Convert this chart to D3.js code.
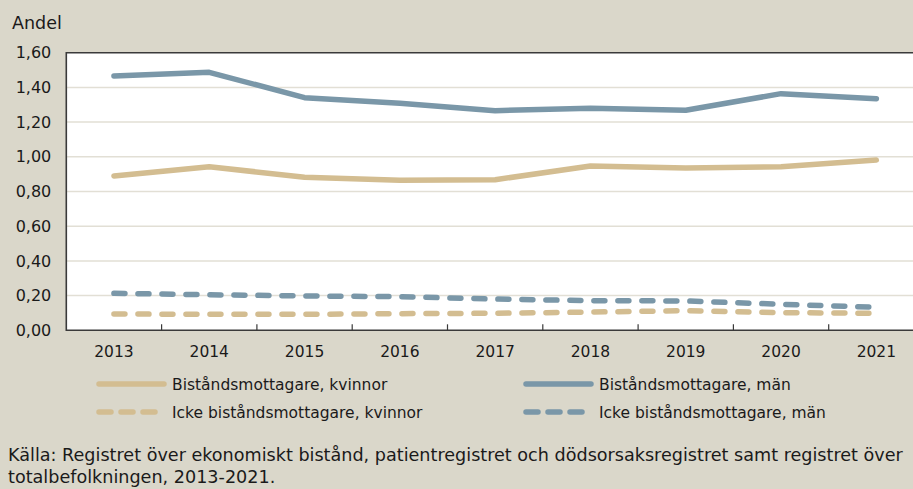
<!DOCTYPE html>
<html><head><meta charset="utf-8">
<script src="https://cdn.jsdelivr.net/npm/d3@7"></script>
<style>
html,body{margin:0;padding:0;background:#DAD7CA;overflow:hidden;}
text{font-family:"DejaVu Sans",sans-serif;fill:#1a1a1a;}
</style></head><body>
<svg id="c" width="913" height="489"></svg>
<script>
const years = ["2013","2014","2015","2016","2017","2018","2019","2020","2021"];
const manBistand = [1.466,1.487,1.341,1.308,1.266,1.280,1.268,1.364,1.335];
const kvinnorBistand = [0.889,0.943,0.882,0.865,0.868,0.947,0.935,0.943,0.981];
const manIcke = [0.213,0.205,0.198,0.194,0.180,0.171,0.169,0.150,0.133];
const kvinnorIcke = [0.094,0.092,0.092,0.096,0.098,0.105,0.113,0.102,0.098];
const yTicks = [0,0.2,0.4,0.6,0.8,1.0,1.2,1.4,1.6];
const seriesNames = ["Biståndsmottagare, kvinnor","Biståndsmottagare, män","Icke biståndsmottagare, kvinnor","Icke biståndsmottagare, män"];
const colKv = "#D3BD91", colMan = "#7A97A8";

const svg = d3.select("#c");
svg.append("rect").attr("width",913).attr("height",489).attr("fill","#DAD7CA");

const x = d3.scaleBand().domain(years).range([66.3,924]);
const y = d3.scaleLinear().domain([0,1.6]).range([330.3,52.7]);

svg.append("rect").attr("x",66.3).attr("y",52.7).attr("width",924-66.3).attr("height",330.3-52.7).attr("fill","#fff");

svg.append("g").selectAll("line").data(yTicks.filter(d=>d>0 && d<1.6)).join("line")
  .attr("x1",67).attr("x2",924).attr("y1",d=>y(d)).attr("y2",d=>y(d))
  .attr("stroke","#E2DFD5").attr("stroke-width",1.5);

svg.append("path").attr("d",`M924,${y(1.6)}H66.3V${y(0)}H924`).attr("fill","none").attr("stroke","#3a3a3a").attr("stroke-width",1.6);

const yAxis = d3.axisLeft(y).tickValues(yTicks).tickSize(0).tickPadding(15)
  .tickFormat(d=>d3.format(".2f")(d).replace(".",","));
const gy = svg.append("g").attr("transform","translate(66.3,0)").call(yAxis);
gy.select(".domain").remove();
gy.selectAll("text").attr("font-size",16).attr("font-family","DejaVu Sans").attr("fill","#1a1a1a");

const xAxis = d3.axisBottom(x).tickSize(0).tickPadding(16);
const gx = svg.append("g").attr("transform",`translate(0,${y(0)})`).call(xAxis);
gx.select(".domain").remove();
gx.selectAll("text").attr("font-size",15.5).attr("font-family","DejaVu Sans").attr("fill","#1a1a1a");
svg.append("g").selectAll("line").data(years.slice(1)).join("line")
  .attr("x1",d=>x(d)).attr("x2",d=>x(d)).attr("y1",y(0)).attr("y2",y(0)-6)
  .attr("stroke","#3a3a3a").attr("stroke-width",1.2);

svg.append("text").attr("x",12).attr("y",29).attr("font-size",17.5).text("Andel");

const line = d3.line().x((d,i)=>x(years[i])+x.bandwidth()/2).y(d=>y(d));
const series = [
  {vals:kvinnorBistand,col:colKv,dash:null},
  {vals:manBistand,col:colMan,dash:null},
  {vals:kvinnorIcke,col:colKv,dash:"11,13"},
  {vals:manIcke,col:colMan,dash:"11,13"}
];
series.forEach(s=>{
  svg.append("path").attr("d",line(s.vals)).attr("fill","none").attr("stroke",s.col)
    .attr("stroke-width",5.5).attr("stroke-linecap","round").attr("stroke-linejoin","round")
    .attr("stroke-dasharray",s.dash);
});

const legPos = [[97,384],[524,384],[97,412],[524,412]];
series.forEach((s,i)=>{
  const [lx,ly] = legPos[i];
  const g = svg.append("g");
  g.append("line").attr("x1",lx+2).attr("x2",lx+67).attr("y1",ly).attr("y2",ly)
    .attr("stroke",s.col).attr("stroke-width",5.5).attr("stroke-linecap","round")
    .attr("stroke-dasharray",s.dash?"12,10":null);
  g.append("text").attr("x",lx+75).attr("y",ly+5.5).attr("font-size",15.5).text(seriesNames[i]);
});

svg.append("text").attr("x",8).attr("y",461).attr("font-size",17.6)
  .text("Källa: Registret över ekonomiskt bistånd, patientregistret och dödsorsaksregistret samt registret över");
svg.append("text").attr("x",8).attr("y",483).attr("font-size",17.6)
  .text("totalbefolkningen, 2013-2021.");
</script></body></html>
